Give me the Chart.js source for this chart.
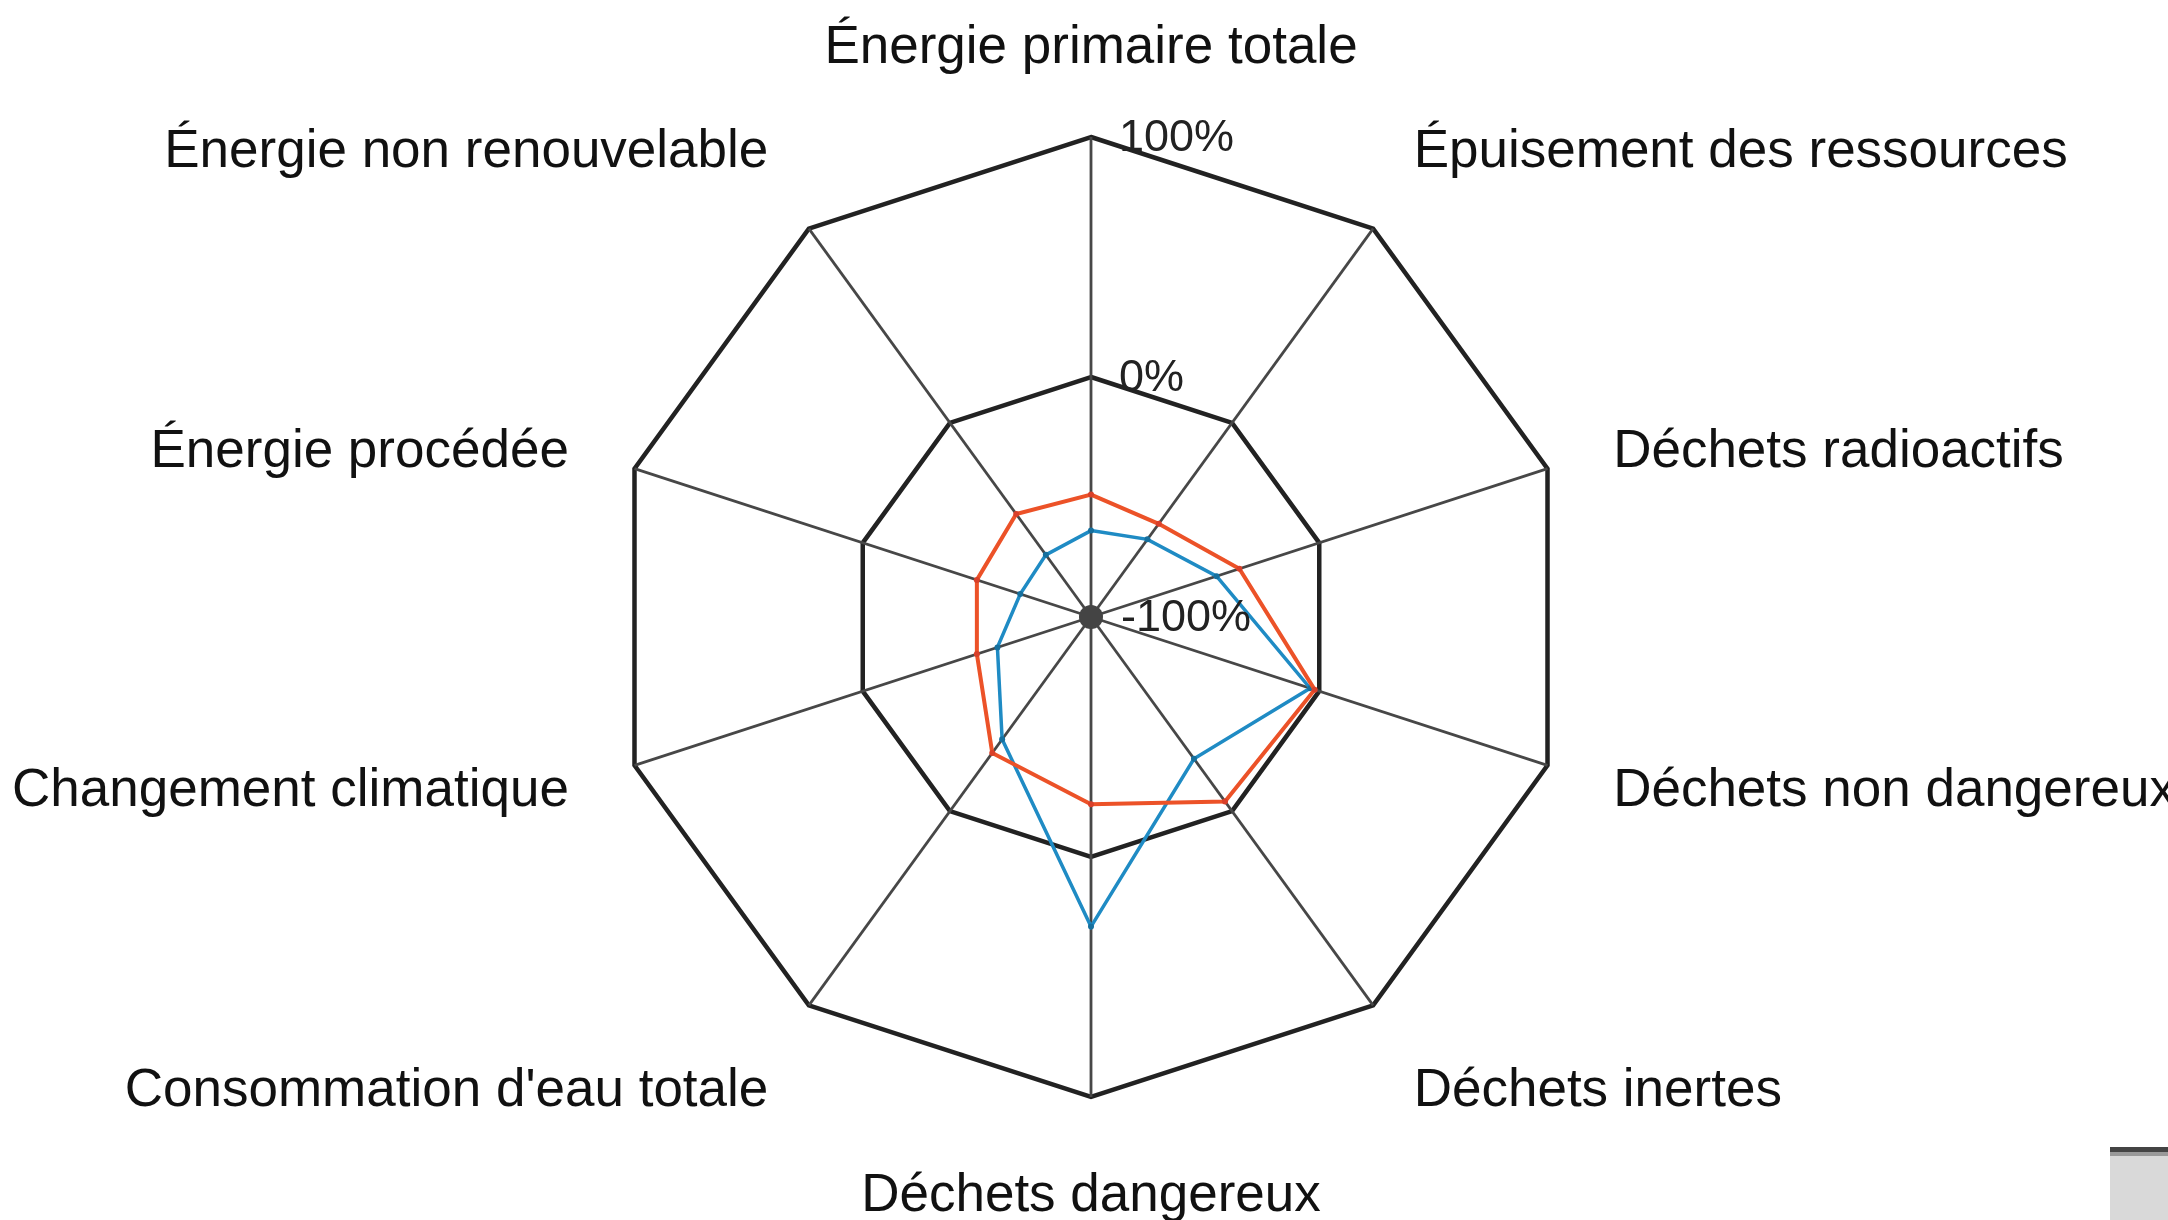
<!DOCTYPE html>
<html lang="fr">
<head>
<meta charset="utf-8">
<title>Radar</title>
<script src="https://cdn.jsdelivr.net/npm/chart.js@4/dist/chart.umd.min.js"></script>
<style>
    html, body { margin: 0; padding: 0; background: #fff; overflow: hidden; }
    #wrap { position: relative; width: 2168px; height: 1220px; }
    #corner {
        position: absolute; right: 0; bottom: 0; width: 58px; height: 68px;
        background: #d9d9d9; border-top: 5px solid #444; box-shadow: inset 0 4px 0 #999;
    }
</style>
</head>
<body>
<div id="wrap">
    <canvas id="radar-chart" width="2168" height="1220"></canvas>
    <div id="corner"></div>
</div>
<script>
// --- DATA ---
const categories = [
    'Énergie primaire totale',
    'Épuisement des ressources',
    'Déchets radioactifs',
    'Déchets non dangereux',
    'Déchets inertes',
    'Déchets dangereux',
    "Consommation d'eau totale",
    'Changement climatique',
    'Énergie procédée',
    'Énergie non renouvelable'
];
const serieRouge = [-49, -52, -35, -2, -5, -22, -30, -50, -50, -47];
const serieBleue = [-64, -60, -45, -4, -27, 29, -37, -59, -69, -68];
const tickValues = [-100, 0, 100];
const tickLabels = ['-100%', '0%', '100%'];

const FONT = '"Liberation Sans", Arial, sans-serif';

// Labels drawn by hand so the vertical placement matches the original
const labelPlugin = {
    id: 'customLabels',
    beforeDatasetsDraw(chart) {
        const scale = chart.scales.r;
        const ctx = chart.ctx;
        // blob at the center where the axes meet
        ctx.save();
        ctx.fillStyle = '#444';
        ctx.beginPath();
        ctx.arc(scale.xCenter, scale.yCenter, 12, 0, Math.PI * 2);
        ctx.fill();
        ctx.restore();
    },
    afterDraw(chart) {
        const scale = chart.scales.r;
        const ctx = chart.ctx;
        ctx.save();

        // point labels
        ctx.font = `53px ${FONT}`;
        ctx.fillStyle = '#111';
        ctx.textBaseline = 'middle';
        categories.forEach((label, i) => {
            const pos = scale.getPointPosition(i, scale.drawingArea + 69);
            const deg = i * 36;
            let dy = 5;
            if (deg === 0 || deg === 36 || deg === 324) dy = -20;
            else if (deg === 144 || deg === 180 || deg === 216) dy = 30;
            ctx.textAlign = (deg === 0 || deg === 180) ? 'center' : (deg < 180 ? 'left' : 'right');
            ctx.fillText(label, pos.x, pos.y + dy);
        });

        // tick labels, to the right of the vertical axis
        ctx.font = `45px ${FONT}`;
        ctx.fillStyle = '#222';
        ctx.textAlign = 'left';
        tickValues.forEach((v, i) => {
            const y = scale.yCenter - scale.getDistanceFromCenterForValue(v);
            const x = scale.xCenter + (v < 0 ? 30 : 28);
            ctx.fillText(tickLabels[i], x, y + 2);
        });
        ctx.restore();
    }
};

new Chart(document.getElementById('radar-chart'), {
    type: 'radar',
    data: {
        labels: categories,
        datasets: [
            {
                label: 'Série 1',
                data: serieRouge,
                borderColor: '#ec5228',
                backgroundColor: 'rgba(0,0,0,0)',
                borderWidth: 4,
                pointRadius: 3,
                pointBorderWidth: 0,
                pointBackgroundColor: '#d9402a',
                fill: false
            },
            {
                label: 'Série 2',
                data: serieBleue,
                borderColor: '#1f8bc4',
                backgroundColor: 'rgba(0,0,0,0)',
                borderWidth: 3.5,
                pointRadius: 3,
                pointBorderWidth: 0,
                pointBackgroundColor: '#16709e',
                fill: false
            }
        ]
    },
    options: {
        responsive: false,
        animation: false,
        devicePixelRatio: 1,
        layout: { padding: { left: 14, right: 0, top: 137, bottom: 123 } },
        plugins: {
            legend: { display: false },
            tooltip: { enabled: false }
        },
        elements: { line: { tension: 0 } },
        scales: {
            r: {
                min: -100,
                max: 100,
                ticks: { display: false, stepSize: 100 },
                pointLabels: { display: false },
                grid: {
                    circular: false,
                    color: '#222',
                    lineWidth: 4.5
                },
                angleLines: {
                    display: true,
                    color: '#474747',
                    lineWidth: 2.8
                }
            }
        }
    },
    plugins: [labelPlugin]
});
</script>
</body>
</html>
